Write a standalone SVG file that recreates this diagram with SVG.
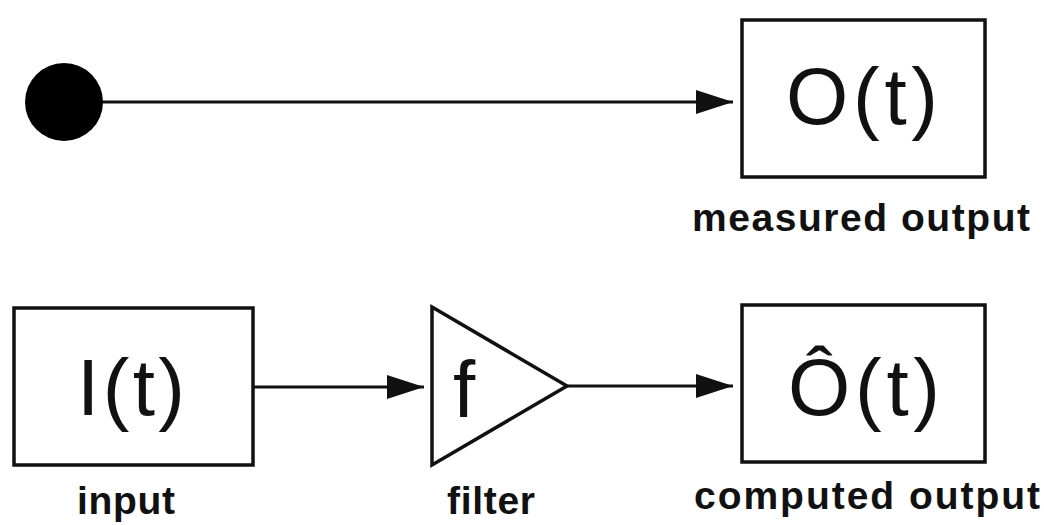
<svg xmlns="http://www.w3.org/2000/svg" width="1044" height="525" viewBox="0 0 1044 525">
  <style>
    .box { fill: #fff; stroke: #111; stroke-width: 3.5; }
    .wire { fill: none; stroke: #111; stroke-width: 3; }
    .sym { font-family: "Liberation Sans", Arial, sans-serif; font-size: 80px; fill: #111; text-anchor: middle; }
    .lbl { font-family: "Liberation Sans", Arial, sans-serif; font-size: 39px; font-weight: bold; fill: #111; text-anchor: middle; }
  </style>
  <defs>
    <marker id="arrow" markerUnits="userSpaceOnUse" markerWidth="38" markerHeight="26" refX="37" refY="12" orient="auto">
      <path d="M0,0 L37,12 L0,24 Z" fill="#111"/>
    </marker>
  </defs>
  <rect width="1044" height="525" fill="#fff"/>

  <g id="connectors">
    <line class="wire" x1="100" y1="102" x2="733" y2="102" marker-end="url(#arrow)"/>
    <line class="wire" x1="253" y1="387" x2="424" y2="387" marker-end="url(#arrow)"/>
    <line class="wire" x1="567" y1="386" x2="733" y2="386" marker-end="url(#arrow)"/>
  </g>

  <g id="source">
    <circle cx="64" cy="102" r="39" fill="#000"/>
  </g>

  <g id="measured-output">
    <rect class="box" x="742" y="20" width="243" height="157"/>
    <text class="sym" x="862" y="124" textLength="152" lengthAdjust="spacing">O(t)</text>
    <text class="lbl" x="861" y="231" textLength="338" lengthAdjust="spacing">measured output</text>
  </g>

  <g id="input">
    <rect class="box" x="14" y="308" width="239" height="157"/>
    <text class="sym" x="131" y="415" textLength="108" lengthAdjust="spacing">I(t)</text>
    <text class="lbl" x="126" y="514" textLength="98" lengthAdjust="spacing">input</text>
  </g>

  <g id="filter">
    <path class="box" d="M432,307 L567,386 L432,465 Z"/>
    <text class="sym" x="464" y="417">f</text>
    <text class="lbl" x="491" y="514" textLength="88" lengthAdjust="spacing">filter</text>
  </g>

  <g id="computed-output">
    <rect class="box" x="742" y="305" width="243" height="157"/>
    <text class="sym" x="864" y="415" textLength="152" lengthAdjust="spacing">Ô(t)</text>
    <text class="lbl" x="867" y="509" textLength="346" lengthAdjust="spacing">computed output</text>
  </g>
</svg>
